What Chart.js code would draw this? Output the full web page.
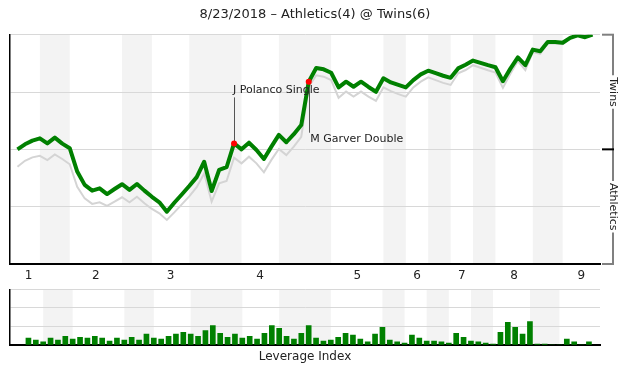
<!DOCTYPE html>
<html>
<head>
<meta charset="utf-8">
<script src="https://cdn.jsdelivr.net/npm/chart.js@4.4.1/dist/chart.umd.min.js"></script>
<style>
  body{margin:0;background:#fff;font-family:"DejaVu Sans",sans-serif;}
  #wrap{position:relative;width:630px;height:380px;}
  #wpChart{position:absolute;left:0;top:0;}
  #liChart{position:absolute;left:0;top:285px;}
</style>
</head>
<body>
<div id="wrap">
  <canvas id="wpChart" width="630" height="285"></canvas>
  <canvas id="liChart" width="630" height="95"></canvas>
</div>
<script>
const title = "8/23/2018 \u2013 Athletics(4) @ Twins(6)";
const teams = ["Twins", "Athletics"];   // top half = home, bottom half = away

// home team win expectancy (%) after each play, play 0 = first pitch
const winExp = [50, 52.2, 53.8, 54.8, 52.6, 55.1, 52.5, 50.5, 40.3, 34.5,
  32, 33, 30.5, 32.7, 34.8, 32.3, 34.9, 32, 29.3, 26.9,
  22.8, 26.7, 30.3, 34, 37.9, 44.6, 31.8, 41, 42.2, 52.6,
  50, 52.9, 49.7, 45.8, 51.2, 56.3, 53.1, 56.6, 60.6, 79.5,
  85.5, 84.9, 83.4, 77, 79.5, 77.3, 79.5, 77.2, 75.1, 81,
  79.2, 78.1, 77, 80.2, 82.7, 84.3, 83.2, 82.1, 81.2, 85.3,
  86.9, 88.7, 87.7, 86.7, 85.8, 79.7, 85.2, 90.1, 86.7, 93.5,
  92.8, 96.8, 96.8, 96.5, 98.6, 99.7, 98.9, 100];

// light grey comparison line
const winExpAlt = [42.4, 45, 46.5, 47.2, 45.3, 47.8, 45.8, 43.5, 33.7, 28.6,
  26.2, 26.9, 25.3, 27.2, 29.1, 26.9, 29.3, 26.5, 24, 22.1,
  19.2, 22.5, 26, 29.5, 33.5, 39.5, 27.2, 35.2, 36.2, 46.4,
  43.9, 46.8, 43.9, 40, 45.4, 50.2, 47.5, 51.2, 55.5, 77.3,
  82.3, 81.7, 80.2, 72.5, 75.2, 73, 75.2, 73, 71.1, 77,
  75.4, 74.1, 73, 77, 79.5, 81.4, 80.2, 79, 78.1, 83.2,
  84.6, 86.7, 85.6, 84.5, 83.5, 76.8, 83, 88.5, 84.6, 92.4,
  91.6, 96.2, 96.2, 95.9, 98.4, 99.6, 98.7, 100];

// leverage index of plays 1..77
const leverage = [1.1, 0.8, 0.5, 1.1, 0.8, 1.4, 0.95, 1.25, 1.1, 1.4,
  1.1, 0.65, 1.1, 0.8, 1.25, 0.8, 1.75, 1.1, 0.95, 1.4,
  1.75, 2.05, 1.75, 1.4, 2.35, 3.15, 1.9, 1.25, 1.75, 1.1,
  1.4, 0.95, 1.9, 3.15, 2.7, 1.4, 0.95, 1.9, 3.15, 1.1,
  0.65, 0.8, 1.25, 1.9, 1.6, 0.95, 0.5, 1.75, 2.85, 0.8,
  0.5, 0.3, 1.6, 1.1, 0.65, 0.65, 0.5, 0.3, 1.9, 1.25,
  0.65, 0.5, 0.3, 0.15, 2.05, 3.65, 2.85, 1.75, 3.8, 0.15,
  0.15, 0, 0, 0.95, 0.5, 0, 0.5];

// innings: play index where top half starts / where it ends
const innings = ["1", "2", "3", "4", "5", "6", "7", "8", "9"];
const topStart = [0, 7, 18, 30, 42, 52, 58, 64, 73];
const topEnd = [3, 14, 23, 35, 49, 55, 61, 69, 78];

const notes = [
  {play: 29, text: "J Polanco Single", above: true},
  {play: 39, text: "M Garver Double", above: false}
];
const notePlays = notes.map(n => n.play);

const FONT = '"DejaVu Sans", sans-serif';

// grey bands for bottom halves
const bands = {
  id: "bands",
  beforeDraw(chart){
    const {ctx, chartArea: a, scales: {x}} = chart;
    ctx.save();
    ctx.fillStyle = "#f3f3f3";
    for(let i = 0; i < topEnd.length - 1; i++){
      const x0 = x.getPixelForValue(topEnd[i]);
      const x1 = x.getPixelForValue(topStart[i + 1]);
      ctx.fillRect(x0, a.top, x1 - x0, a.bottom - a.top);
    }
    ctx.restore();
  }
};

// title, inning labels, notes, team bracket
const decor = {
  id: "decor",
  beforeDatasetsDraw(chart){
    const {ctx, scales: {x, y}} = chart;
    ctx.save();
    ctx.strokeStyle = "#555";
    ctx.lineWidth = 1;
    notes.forEach(n => {
      const px = Math.round(x.getPixelForValue(n.play)) + 0.5;
      const py = y.getPixelForValue(winExp[n.play]);
      ctx.beginPath();
      ctx.moveTo(px, py);
      ctx.lineTo(px, n.above ? py - 46 : py + 51);
      ctx.stroke();
    });
    ctx.restore();
  },
  afterDraw(chart){
    const {ctx, chartArea: a, scales: {x, y}} = chart;
    ctx.save();
    ctx.fillStyle = "#222";
    ctx.font = "13px " + FONT;
    ctx.textAlign = "center";
    ctx.textBaseline = "middle";
    ctx.fillText(title, chart.width / 2, 15);

    ctx.font = "12px " + FONT;
    innings.forEach((lab, i) => {
      ctx.fillText(lab, x.getPixelForValue((topStart[i] + topEnd[i]) / 2), a.bottom + 12);
    });

    ctx.font = "11px " + FONT;
    ctx.textAlign = "left";
    ctx.textBaseline = "alphabetic";
    notes.forEach(n => {
      const px = x.getPixelForValue(n.play);
      const py = y.getPixelForValue(winExp[n.play]);
      if(n.above) ctx.fillText(n.text, px - 1, py - 50);
      else ctx.fillText(n.text, px + 1.5, py + 60);
    });

    // team bracket on the right
    const bx = a.right + 13;
    const mid = y.getPixelForValue(50);
    const halves = [[a.top, mid], [mid, a.bottom]];
    ctx.lineWidth = 2;
    ctx.strokeStyle = "#808080";
    [a.top, a.bottom].forEach(yy => {
      ctx.beginPath(); ctx.moveTo(a.right + 2, yy); ctx.lineTo(bx + 1, yy); ctx.stroke();
    });
    ctx.font = "11px " + FONT;
    halves.forEach((h, i) => {
      const c = (h[0] + h[1]) / 2;
      const w = ctx.measureText(teams[i]).width;
      ctx.strokeStyle = "#808080";
      ctx.beginPath();
      ctx.moveTo(bx, h[0]); ctx.lineTo(bx, c - w / 2 - 2);
      ctx.moveTo(bx, c + w / 2 + 2); ctx.lineTo(bx, h[1]);
      ctx.stroke();
      ctx.save();
      ctx.translate(bx, c);
      ctx.rotate(Math.PI / 2);
      ctx.textAlign = "center";
      ctx.textBaseline = "middle";
      ctx.fillStyle = "#222";
      ctx.fillText(teams[i], 0, 0);
      ctx.restore();
    });
    ctx.strokeStyle = "#000";
    ctx.beginPath(); ctx.moveTo(a.right + 2, mid); ctx.lineTo(bx + 1, mid); ctx.stroke();
    ctx.restore();
  }
};

new Chart(document.getElementById("wpChart"), {
  type: "line",
  data: {
    datasets: [{
      data: winExp.map((v, i) => ({x: i, y: v})),
      borderColor: "#008000",
      borderWidth: 4,
      borderJoinStyle: "round",
      pointRadius: winExp.map((v, i) => notePlays.includes(i) ? 3 : 0),
      pointBackgroundColor: "#ff0000",
      pointBorderWidth: 0,
      tension: 0
    }, {
      data: winExpAlt.map((v, i) => ({x: i, y: v})),
      borderColor: "#d4d4d4",
      borderWidth: 2,
      pointRadius: 0,
      tension: 0
    }]
  },
  options: {
    responsive: false,
    animation: false,
    layout: {autoPadding: false, padding: {left: 10, right: 30, top: 34.7, bottom: 21}},
    plugins: {legend: {display: false}, tooltip: {enabled: false}},
    scales: {
      x: {type: "linear", min: -1, max: 78,
          grid: {display: false, drawTicks: false}, ticks: {display: false},
          border: {color: "#000", width: 2}},
      y: {min: 0, max: 100, ticks: {display: false, stepSize: 25},
          grid: {color: "#d8d8d8", drawTicks: false},
          border: {color: "#000", width: 1.5}}
    }
  },
  plugins: [bands, decor]
});

const liLabel = {
  id: "liLabel",
  afterDraw(chart){
    const {ctx, chartArea: a} = chart;
    ctx.save();
    ctx.fillStyle = "#222";
    ctx.font = "12px " + FONT;
    ctx.textAlign = "center";
    ctx.textBaseline = "middle";
    ctx.fillText("Leverage Index", (a.left + a.right) / 2, a.bottom + 12);
    ctx.restore();
  }
};

new Chart(document.getElementById("liChart"), {
  type: "bar",
  data: {
    datasets: [{
      data: leverage.map((v, i) => ({x: i + 1, y: v})),
      backgroundColor: "#008000",
      borderWidth: 0,
      barThickness: 5
    }]
  },
  options: {
    responsive: false,
    animation: false,
    layout: {autoPadding: false, padding: {left: 10, right: 30, top: 4.3, bottom: 35}},
    plugins: {legend: {display: false}, tooltip: {enabled: false}},
    scales: {
      x: {type: "linear", min: -1.5, max: 78.5, offset: false,
          grid: {display: false, drawTicks: false, offset: false}, ticks: {display: false},
          border: {color: "#000", width: 2}},
      y: {min: 0, max: 9, ticks: {display: false, stepSize: 3},
          grid: {color: "#d8d8d8", drawTicks: false},
          border: {color: "#000", width: 1.5}}
    }
  },
  plugins: [bands, liLabel]
});
</script>
</body>
</html>
